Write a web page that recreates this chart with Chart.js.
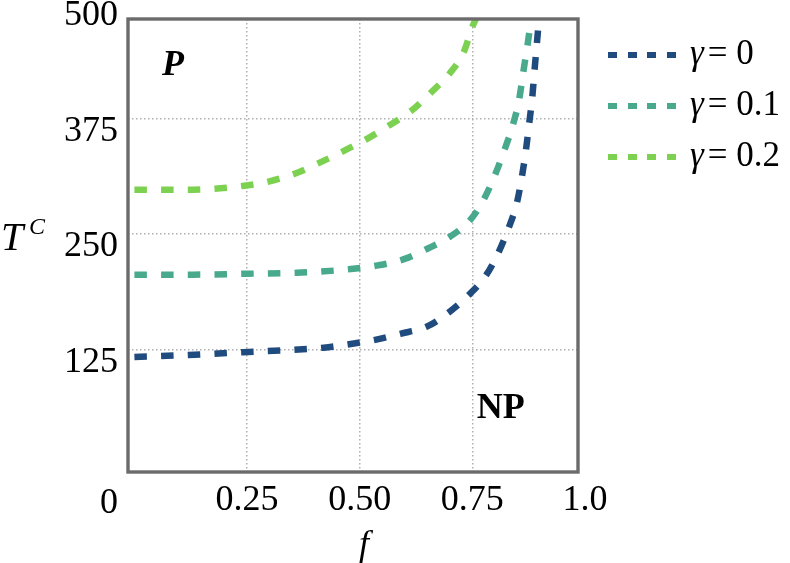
<!DOCTYPE html>
<html>
<head>
<meta charset="utf-8">
<script src="https://cdn.jsdelivr.net/npm/chart.js@4.4.1/dist/chart.umd.min.js"></script>
<style>
    body { margin: 0; background: #fff; }
    #wrap { position: relative; width: 790px; height: 563px; }
    #legend { position: absolute; left: 608px; top: 29px; font-family: 'Liberation Serif', serif; font-size: 35px; color: #000; }
    .item { display: flex; align-items: center; height: 51px; }
    .dash { width: 69px; height: 6px; margin-right: 13px; }
    .item span { position: relative; top: -2px; white-space: nowrap; }
    .item i { margin-right: 4px; }
</style>
</head>
<body>
<div id="wrap">
    <canvas id="chart" width="790" height="563"></canvas>
    <div id="legend"></div>
</div>
<script>
// critical temperature T^C against f, one curve per gamma
const fGamma0 = [0, 0.12, 0.24, 0.42, 0.48, 0.53, 0.59, 0.65, 0.70, 0.74, 0.78, 0.807, 0.831, 0.849, 0.860, 0.869, 0.876, 0.883, 0.888, 0.893, 0.898, 0.900];
const tGamma0 = [117, 119, 122, 127, 131, 135, 142, 150, 166, 183, 205, 229, 257, 284, 312, 341, 369, 398, 427, 455, 480, 483];

const fGamma01 = [0, 0.13, 0.25, 0.36, 0.48, 0.54, 0.60, 0.65, 0.70, 0.745, 0.776, 0.802, 0.822, 0.840, 0.854, 0.863, 0.872, 0.880, 0.882];
const tGamma01 = [206, 206, 207, 208, 212, 216, 223, 234, 247, 265, 288, 316, 342, 368, 396, 425, 453, 479, 483];

const fGamma02 = [0, 0.13, 0.24, 0.30, 0.36, 0.41, 0.465, 0.52, 0.567, 0.616, 0.66, 0.70, 0.731, 0.750, 0.758];
const tGamma02 = [298, 298, 302, 307, 316, 327, 340, 354, 368, 384, 404, 424, 447, 474, 483];

const gammaLabels = ['0', '0.1', '0.2'];
const seriesColors = ['#1f4b7e', '#48a98d', '#7cd250'];

const xTickValues = [0.25, 0.5, 0.75, 1.0];
const xTickLabels = ['0.25', '0.50', '0.75', '1.0'];
const yTickValues = [125, 250, 375, 500];
const yTickLabels = ['125', '250', '375', '500'];

const toPoints = (fs, ts) => fs.map((f, i) => ({ x: f, y: ts[i] }));

const tickFont = { family: "'Liberation Serif', serif", size: 36 };
const gridColor = c => (c.tick && c.tick.value > c.scale.max) ? 'rgba(0,0,0,0)' : '#b0b0b0';

// frame, region labels and axis titles
const annotations = {
    id: 'annotations',
    afterDatasetsDraw(chart) {
        const { ctx, chartArea: a, scales: { x, y } } = chart;
        ctx.save();
        ctx.strokeStyle = '#6b6b6b';
        ctx.lineWidth = 3.4;
        ctx.strokeRect(a.left, a.top, a.right - a.left, a.bottom - a.top);

        ctx.fillStyle = '#000';
        ctx.textBaseline = 'alphabetic';
        ctx.font = "bold italic 36px 'Liberation Serif'";
        ctx.fillText('P', x.getPixelForValue(0.061), y.getPixelForValue(422));
        ctx.font = "bold 36px 'Liberation Serif'";
        ctx.fillText('NP', x.getPixelForValue(0.76), y.getPixelForValue(51));

        ctx.font = "italic 40px 'Liberation Serif'";
        ctx.fillText('T', 1, 250);
        ctx.font = "italic 24px 'Liberation Serif'";
        ctx.fillText('C', 29, 234);

        ctx.font = "36px 'Liberation Serif'";
        ctx.textAlign = 'right';
        ctx.fillText('0', 118, 513);
        ctx.textAlign = 'center';
        ctx.font = "italic 36px 'Liberation Serif'";
        ctx.fillText('f', 364, 555);
        ctx.restore();
    }
};

const makeSet = (i, fs, ts) => ({
    label: gammaLabels[i],
    data: toPoints(fs, ts),
    borderColor: seriesColors[i],
    backgroundColor: seriesColors[i],
    borderWidth: 6.5,
    borderDash: [12.5, 14.2],
    borderCapStyle: 'butt',
    cubicInterpolationMode: 'monotone',
    pointRadius: 0,
    fill: false,
    clip: 0
});

const chart = new Chart(document.getElementById('chart'), {
    type: 'line',
    data: {
        datasets: [
            makeSet(0, fGamma0, tGamma0),
            makeSet(1, fGamma01, tGamma01),
            makeSet(2, fGamma02, tGamma02)
        ]
    },
    options: {
        responsive: false,
        animation: false,
        layout: { padding: { left: 0, top: 19, right: 212, bottom: 0 } },
        plugins: { legend: { display: false }, tooltip: { enabled: false } },
        scales: {
            x: {
                type: 'linear',
                min: -0.0142,
                max: 0.9845,
                afterBuildTicks: s => { s.ticks = xTickValues.map(v => ({ value: v })); },
                afterFit: s => { s.height = 91; },
                ticks: { autoSkip: false, maxRotation: 0, padding: 7, color: '#000', font: tickFont,
                         callback: (v, i) => xTickLabels[i] },
                grid: { drawTicks: false, lineWidth: 1.5, color: gridColor },
                border: { display: false, dash: [1.5, 2.5] }
            },
            y: {
                type: 'linear',
                min: -7.6,
                max: 482.7,
                afterBuildTicks: s => { s.ticks = yTickValues.map(v => ({ value: v })); },
                afterFit: s => { s.width = 128; },
                // labels hang just below their grid line; the empty second line
                // with a short line height lifts the text a few px
                ticks: { autoSkip: false, align: 'start', padding: 10, color: '#000',
                         font: { ...tickFont, lineHeight: '10px' },
                         callback: (v, i) => [yTickLabels[i], ''] },
                grid: { drawTicks: false, lineWidth: 1.5, color: gridColor },
                border: { display: false, dash: [1.5, 2.5] }
            }
        }
    },
    plugins: [annotations]
});

// html legend built from the datasets
const legendBox = document.getElementById('legend');
chart.data.datasets.forEach(ds => {
    const row = document.createElement('div');
    row.className = 'item';
    const dash = document.createElement('div');
    dash.className = 'dash';
    dash.style.background = `repeating-linear-gradient(90deg, ${ds.borderColor} 0 9px, transparent 9px 19.7px)`;
    const text = document.createElement('span');
    text.innerHTML = '<i>γ</i>= ' + ds.label;
    row.appendChild(dash);
    row.appendChild(text);
    legendBox.appendChild(row);
});
</script>
</body>
</html>
